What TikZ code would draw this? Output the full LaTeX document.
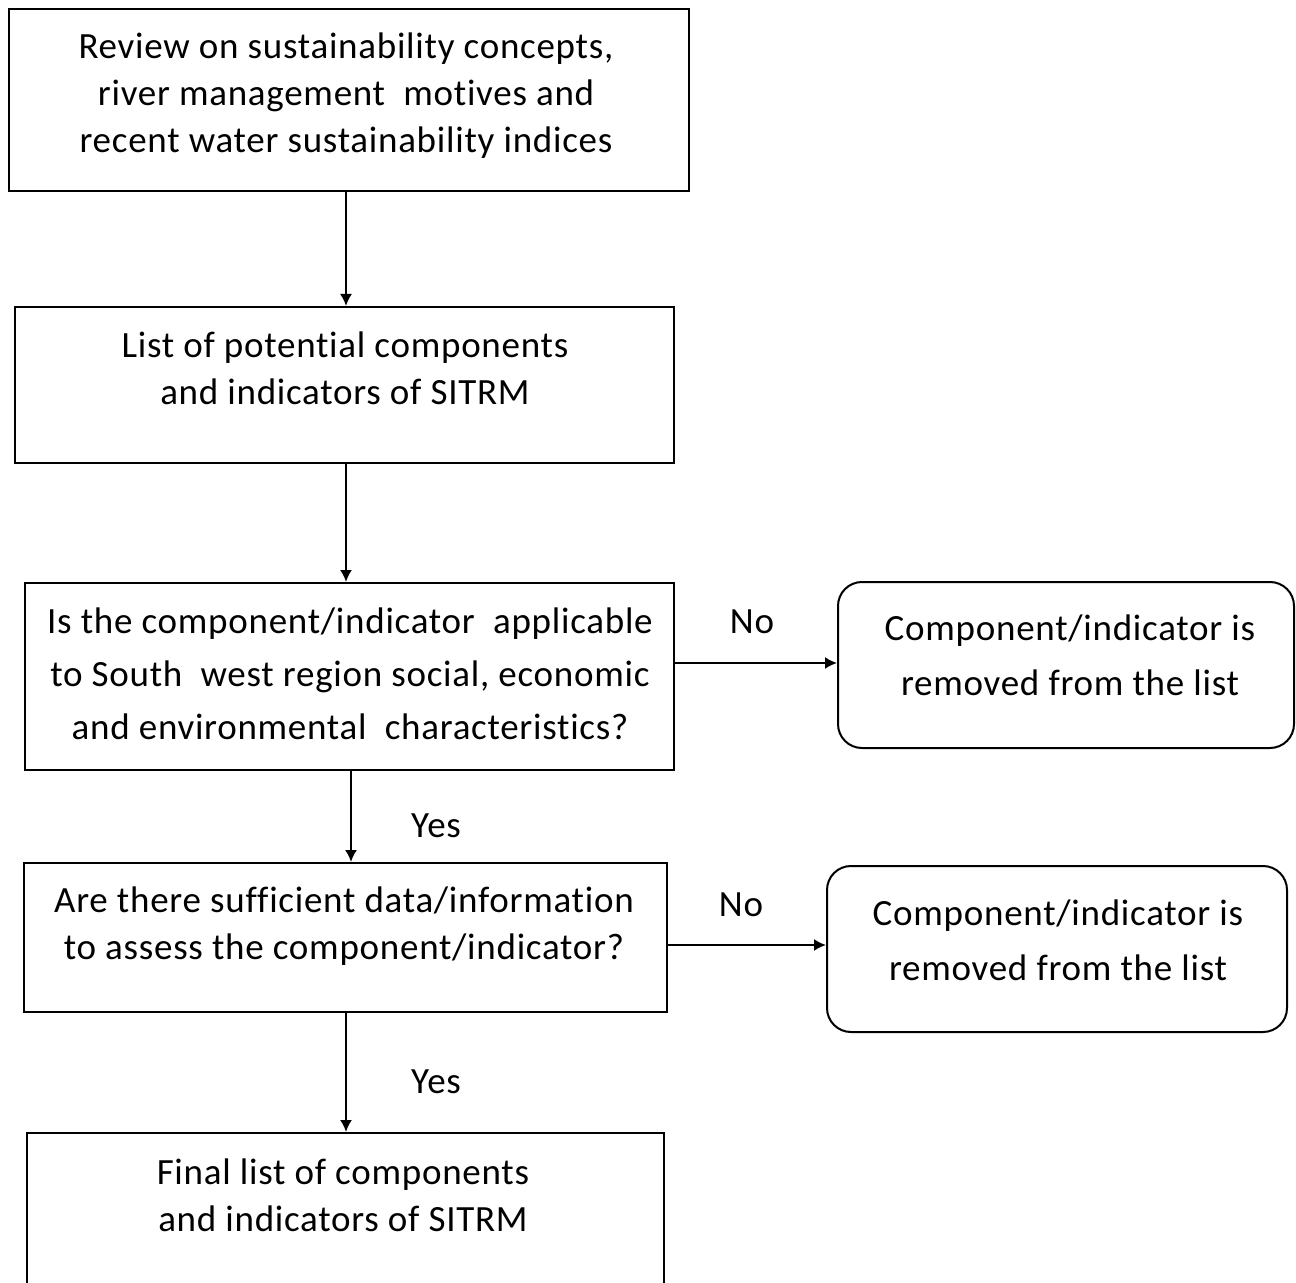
\documentclass[tikz,border=0pt]{standalone}
\usepackage{fontspec}
\setmainfont{Carlito}[Ligatures=NoCommon, LetterSpace=2]
\usetikzlibrary{arrows.meta}
\begin{document}
\begin{tikzpicture}[x=0.5pt,y=-0.5pt,
  box/.style={draw, line width=1pt, inner sep=0pt, text width=0pt},
  rbox/.style={box, rounded corners=12pt},
  txt/.style={align=center, inner sep=0pt, font=\fontsize{18.5}{23.5}\selectfont},
  lbl/.style={inner sep=0pt, font=\fontsize{18.5}{23.5}\selectfont},
  arr/.style={line width=1pt, -{Latex[length=6pt,width=6pt]}}]
\useasboundingbox (0,0) rectangle (1296,1283);
\fill[white] (0,0) rectangle (1296,1283);
% boxes
\node[box, minimum width=340pt, minimum height=91pt] (b1) at (349,100) {};
\node[box, minimum width=329.5pt, minimum height=78pt] (b2) at (344.5,385) {};
\node[box, minimum width=324.5pt, minimum height=93.5pt] (b3) at (349.5,676.5) {};
\node[box, minimum width=321.5pt, minimum height=74.5pt] (b4) at (345.5,937.5) {};
\node[box, minimum width=318.5pt, minimum height=83.5pt] (b5) at (345.5,1216.5) {};
\node[rbox, minimum width=228pt, minimum height=83pt] (r1) at (1066,665) {};
\node[rbox, minimum width=230pt, minimum height=83pt] (r2) at (1057,949) {};
% texts
\node[txt] (t1) at (346,96) {Review on sustainability concepts,\\ river management\ \ motives and\\recent water sustainability indices};
\node[txt] (t2) at (345,368) {List of potential components\\and indicators of SITRM};
\node[txt, font=\fontsize{18.5}{26.5}\selectfont] (t3) at (350,674) {Is the component/indicator\ \ applicable\\to South\ \ west region social, economic\\and environmental\ \ characteristics?};
\node[txt] (t4) at (344,926) {Are there sufficient data/information\\to assess the component/indicator?};
\node[txt] (t5) at (343,1195) {Final list of components\\and indicators of SITRM};
\node[txt, font=\fontsize{18.5}{27.5}\selectfont] (t6) at (1070,655) {Component/indicator\ is\\removed\ from the list};
\node[txt, font=\fontsize{18.5}{27.5}\selectfont] (t7) at (1058,940) {Component/indicator\ is\\removed\ from the list};
% labels
\node[lbl] (no1) at (752,622) {No};
\node[lbl] (no2) at (741,905) {No};
\node[lbl] (yes1) at (436,826) {Yes};
\node[lbl] (yes2) at (436,1082) {Yes};
% connectors
\coordinate (xa) at (346,0);
\coordinate (xb) at (351,0);
\coordinate (ya) at (0,663);
\coordinate (yb) at (0,945);
\draw[arr] (b1.south -| xa) -- (b2.north -| xa);
\draw[arr] (b2.south -| xa) -- (b3.north -| xa);
\draw[arr] (b3.south -| xb) -- (b4.north -| xb);
\draw[arr] (b4.south -| xa) -- (b5.north -| xa);
\draw[arr] (b3.east |- ya) -- (r1.west |- ya);
\draw[arr] (b4.east |- yb) -- (r2.west |- yb);
\end{tikzpicture}
\end{document}
